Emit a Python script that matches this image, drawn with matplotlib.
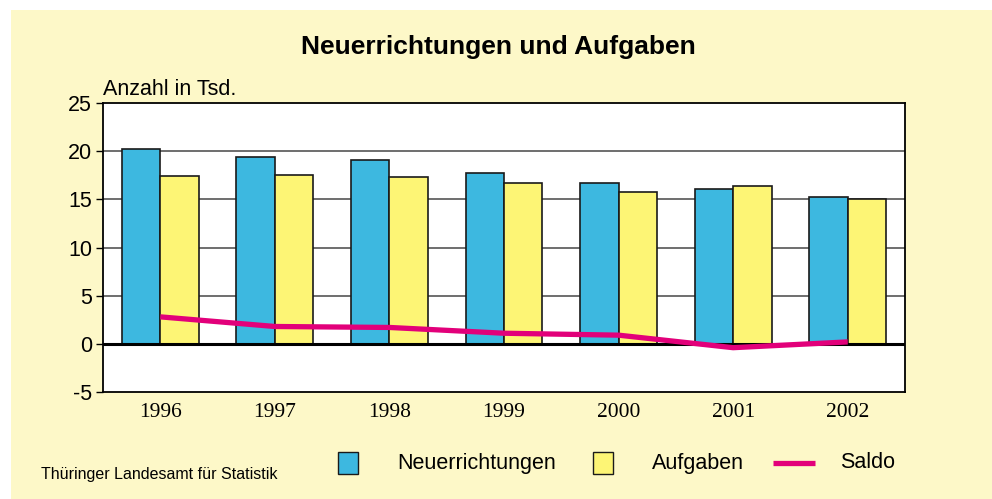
import matplotlib.pyplot as plt
import numpy as np
from matplotlib.patches import Rectangle
from matplotlib.lines import Line2D

years = ["1996", "1997", "1998", "1999", "2000", "2001", "2002"]
neuerrichtungen = [20.2, 19.4, 19.1, 17.7, 16.7, 16.1, 15.2]
aufgaben = [17.4, 17.5, 17.3, 16.7, 15.8, 16.4, 15.0]
saldo = [2.8, 1.8, 1.7, 1.1, 0.9, -0.4, 0.2]

blue = "#3db8e0"
yellow = "#fdf575"
pink = "#e2007a"
cream = "#fdf8c8"

plt.rcParams["axes.unicode_minus"] = False

W, H = 992, 499
fig = plt.figure(figsize=(W / 100, H / 100), dpi=100, facecolor="white")
fig.patches.append(Rectangle((11 / W, 0), 1 - 11 / W, 489 / H,
                             transform=fig.transFigure, facecolor=cream,
                             edgecolor="none", zorder=-10))

ax = fig.add_axes([103 / W, (H - 392) / H, 802 / W, 289 / H])
ax.set_facecolor("white")

x = np.arange(len(years))
bw = 0.335
ax.bar(x - bw / 2, neuerrichtungen, bw, color=blue, edgecolor="#1a1a1a",
       linewidth=1.2, zorder=3)
ax.bar(x + bw / 2, aufgaben, bw, color=yellow, edgecolor="#1a1a1a",
       linewidth=1.2, zorder=3)
ax.plot(x, saldo, color=pink, linewidth=3.8, zorder=5, solid_capstyle="butt")

ax.set_xlim(-0.5, len(years) - 0.5)
ax.set_ylim(-5, 25)
ax.set_yticks(range(-5, 30, 5))
for v in (5, 10, 15, 20):
    ax.axhline(v, color="#555555", linewidth=1.2, zorder=1)
ax.axhline(0, color="black", linewidth=2.2, zorder=4)

for s in ax.spines.values():
    s.set_linewidth(1.3)
    s.set_color("black")

ax.set_xticks(x)
ax.set_xticklabels(years, family="Liberation Serif", fontsize=15.5)
ax.tick_params(axis="x", length=0, pad=8)
ax.tick_params(axis="y", length=5, width=1, direction="out", pad=3,
               labelsize=15.5)
for lab in ax.get_yticklabels():
    lab.set_family("Liberation Sans")

ax.text(0, 1.01, "Anzahl in Tsd.", transform=ax.transAxes, ha="left",
        va="bottom", family="Liberation Sans", fontsize=15.5)

fig.text(498 / W, 1 - 47 / H, "Neuerrichtungen und Aufgaben", ha="center",
         va="center", family="Liberation Sans", fontweight="bold", fontsize=19)

fig.text(41 / W, 1 - 475 / H, "Thüringer Landesamt für Statistik",
         ha="left", va="center", family="Liberation Sans", fontsize=11.5)

# legend
ly = 1 - 463 / H
fig.patches.append(Rectangle((338 / W, 1 - 474 / H), 20 / W, 22 / H,
                             transform=fig.transFigure, facecolor=blue,
                             edgecolor="#1a1a1a", linewidth=1.0))
fig.patches.append(Rectangle((593 / W, 1 - 474 / H), 20 / W, 22 / H,
                             transform=fig.transFigure, facecolor=yellow,
                             edgecolor="#1a1a1a", linewidth=1.0))
fig.lines.append(Line2D([773 / W, 815 / W], [ly, ly], transform=fig.transFigure,
                        color=pink, linewidth=3.8, solid_capstyle="butt"))
for xt, txt in ((397, "Neuerrichtungen"), (652, "Aufgaben"), (840, "Saldo")):
    fig.text(xt / W, ly, txt, ha="left", va="center", family="Liberation Sans",
             fontsize=15.5)

fig.savefig("out.png", dpi=100, facecolor="white")
